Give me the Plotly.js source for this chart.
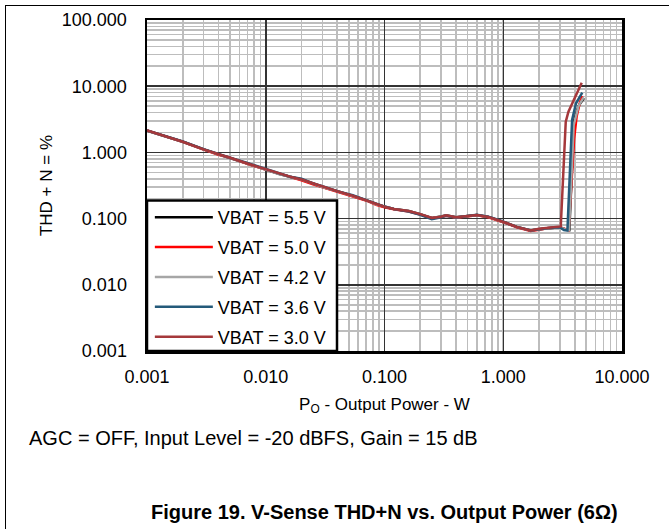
<!DOCTYPE html>
<html>
<head>
<meta charset="utf-8">
<script src="https://cdn.plot.ly/plotly-3.0.1.min.js"></script>
<style>
  html, body { margin: 0; padding: 0; background: #fff; }
  #wrap { position: relative; width: 669px; height: 529px; overflow: hidden; }
  #chart { position: absolute; left: 0; top: 0; width: 669px; height: 529px; }
  #frame { position: absolute; left: 5px; top: 5px; width: 670px; height: 530px;
           border-top: 1.5px solid #000; border-left: 1.5px solid #000; pointer-events: none; }
</style>
</head>
<body>
<div id="wrap"><div id="chart"></div><div id="frame"></div></div>
<script>
// Output power (W), shared low-power part of every sweep
const powerLow = [0.001,0.0015,0.002,0.003,0.004,0.005,0.007,0.01,0.013,0.016,0.02,0.025,0.03,0.04,0.054,0.07,0.085,0.1,0.12,0.135,0.16,0.2,0.25,0.3,0.33,0.4,0.5,0.6,0.75,0.93,1.08,1.3,1.7,2.0,2.4,3.0];

// THD+N (%) per supply voltage
const thd55 = [2.13,1.70,1.45,1.11,0.93,0.82,0.68,0.555,0.47,0.43,0.39,0.34,0.30,0.26,0.222,0.19,0.166,0.151,0.14,0.137,0.13,0.117,0.102,0.108,0.112,0.105,0.108,0.113,0.106,0.094,0.085,0.075,0.066,0.069,0.072,0.074];
const tailX55 = [3.3,3.6,3.95,4.3,4.78];
const tailY55 = [0.069,0.067,3.0,5.0,6.6];

const thd50 = [2.14,1.71,1.44,1.10,0.92,0.83,0.67,0.55,0.48,0.42,0.38,0.33,0.30,0.255,0.215,0.188,0.162,0.148,0.138,0.134,0.128,0.115,0.101,0.106,0.110,0.103,0.107,0.112,0.105,0.093,0.084,0.074,0.065,0.068,0.072,0.074];
const tailX50 = [3.3,3.55,3.95,4.15,4.4,4.63];
const tailY50 = [0.069,0.067,1.6,3.5,5.5,7.1];

const thd42 = [2.13,1.71,1.45,1.11,0.93,0.82,0.68,0.555,0.47,0.43,0.39,0.34,0.30,0.26,0.222,0.19,0.165,0.151,0.14,0.136,0.129,0.116,0.101,0.107,0.111,0.104,0.108,0.113,0.106,0.094,0.085,0.075,0.066,0.069,0.072,0.074];
const tailX42 = [3.3,3.58,3.92,4.3,4.75];
const tailY42 = [0.069,0.067,2.6,5.0,6.8];

const thd36 = [2.14,1.72,1.46,1.12,0.94,0.83,0.69,0.56,0.48,0.43,0.40,0.34,0.31,0.26,0.225,0.19,0.165,0.152,0.14,0.136,0.128,0.114,0.098,0.105,0.110,0.104,0.108,0.114,0.107,0.095,0.085,0.075,0.066,0.069,0.072,0.074];
const tailX36 = [3.24,3.47,3.8,4.1,4.63];
const tailY36 = [0.067,0.066,3.09,5.52,7.98];

const thd30 = [2.14,1.71,1.45,1.11,0.93,0.83,0.68,0.556,0.475,0.43,0.39,0.34,0.305,0.26,0.222,0.19,0.165,0.151,0.14,0.137,0.13,0.117,0.102,0.107,0.112,0.105,0.108,0.113,0.106,0.094,0.085,0.075,0.066,0.07,0.073,0.075];
const tailX30 = [3.05,3.36,3.54,4.58];
const tailY30 = [0.076,2.91,4.12,11.3];

const seriesNames = ['VBAT = 5.5 V','VBAT = 5.0 V','VBAT = 4.2 V','VBAT = 3.6 V','VBAT = 3.0 V'];
const seriesColors = ['#000000','#ff0000','#a6a6a6','#245a7a','#a5383b'];

const xTickVals = [0.001,0.01,0.1,1,10];
const xTickText = ['0.001','0.010','0.100','1.000','10.000'];
const yTickVals = [0.001,0.01,0.1,1,10,100];
const yTickText = ['0.001','0.010','0.100','1.000','10.000','100.000'];

const ys = [thd55,thd50,thd42,thd36,thd30];
const tx = [tailX55,tailX50,tailX42,tailX36,tailX30];
const ty = [tailY55,tailY50,tailY42,tailY36,tailY30];

const traces = ys.map((y, i) => ({
  type: 'scatter', mode: 'lines',
  x: powerLow.concat(tx[i]), y: y.concat(ty[i]),
  name: seriesNames[i], legendgroup: 'g' + i,
  line: { color: seriesColors[i], width: 2.5 },
  hoverinfo: 'skip'
}));

const FONT = 'Arial, "Liberation Sans", sans-serif';

const axisCommon = {
  type: 'log',
  showline: true, mirror: true, linecolor: '#000', linewidth: 2.5,
  showgrid: true, gridcolor: '#333333', gridwidth: 1.5,
  zeroline: false, ticks: '',
  tickfont: { family: FONT, size: 18, color: '#000' },
  minor: { dtick: 'D1', showgrid: true, gridcolor: '#bdbdbd', gridwidth: 1.6, ticks: '' }
};

const layout = {
  width: 669, height: 529,
  margin: { l: 147, r: 47, t: 20, b: 178 },
  paper_bgcolor: '#fff', plot_bgcolor: '#fff',
  showlegend: true,
  font: { family: FONT, color: '#000' },
  xaxis: Object.assign({}, axisCommon, {
    range: [-3, 1], tickvals: xTickVals, ticktext: xTickText, ticklabelstandoff: 8,
    title: { text: 'P<sub>O</sub> - Output Power - W', font: { family: FONT, size: 17, color: '#000' }, standoff: 12 }
  }),
  yaxis: Object.assign({}, axisCommon, {
    range: [-3, 2], tickvals: yTickVals, ticktext: yTickText, ticklabelstandoff: 14,
    title: { text: 'THD + N = %', font: { family: FONT, size: 17, color: '#000' }, standoff: 5 }
  }),
  legend: {
    x: 0.006, y: -0.012, xanchor: 'left', yanchor: 'bottom',
    bgcolor: 'rgba(0,0,0,0)', borderwidth: 0,
    font: { family: FONT, size: 18, color: '#000' },
    tracegroupgap: 3.5, itemwidth: 58, traceorder: 'grouped'
  },
  shapes: [
    { type: 'rect', xref: 'paper', yref: 'paper', x0: 0, x1: 0.4, y0: 0, y1: 0.455, layer: 'above',
      fillcolor: '#fff', line: { color: '#000', width: 2.5 } }
  ],
  annotations: [
    { xref: 'paper', yref: 'paper', x: -0.252, y: -0.262, xanchor: 'left', yanchor: 'middle', showarrow: false,
      text: 'AGC = OFF, Input Level = -20 dBFS, Gain = 15 dB', font: { family: FONT, size: 20, color: '#000' } },
    { xref: 'paper', yref: 'paper', x: 0.5, y: -0.485, xanchor: 'center', yanchor: 'middle', showarrow: false,
      text: '<b>Figure 19. V-Sense THD+N vs. Output Power (6Ω)</b>', font: { family: FONT, size: 20, color: '#000' } }
  ]
};

Plotly.newPlot('chart', traces, layout, { displayModeBar: false, staticPlot: true });
</script>
</body>
</html>
